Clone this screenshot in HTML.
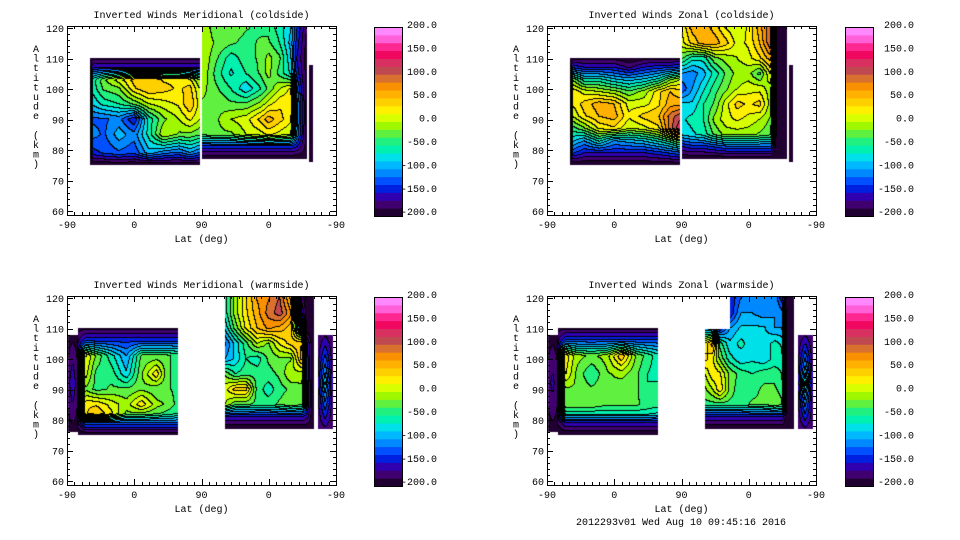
<!DOCTYPE html>
<html><head><meta charset="utf-8"><style>
body{margin:0;background:#fff;width:960px;height:540px;overflow:hidden;position:relative;font-family:"Liberation Mono",monospace}
canvas{position:absolute;z-index:1}
svg{position:absolute;left:0;top:0;z-index:2}
svg text{font-family:"Liberation Mono",monospace;font-size:10px;fill:#000}
</style></head><body>
<svg id="svg" width="960" height="540"></svg>
<script>
// ---- data: x in 0..360 (lat -90..90..-90), alt in km ----
const levelsTicks=[-200,-150,-100,-50,0,50,100,150,200];
const xTickVals=[0,90,180,270,360];
const xTickLabels=['-90','0','90','0','-90'];
const yTickVals=[60,70,80,90,100,110,120];

// Top-left: Meridional coldside
const tlA_cols=[31,35,50,70,90,110,130,150,165,178];
const tlA_rows=[110,107,103,100,95,90,85,79,75];
const tlA_vals=[
[-200,-190,-190,-190,-190,-190,-190,-190,-190,-190],
[-200,-150,-150,-150,-150,-150,-150,-150,-150,-150],
[-200,-60,-20,10,40,50,30,30,20,-20],
[-200,-60,-30,-20,30,50,40,30,40,0],
[-200,-80,-60,-50,-30,0,10,20,50,10],
[-200,-120,-120,-110,-150,-60,-20,0,20,0],
[-200,-110,-120,-90,-110,-60,0,-20,-20,-30],
[-200,-140,-130,-120,-130,-90,-110,-120,-100,-120],
[-200,-200,-200,-200,-200,-200,-200,-200,-200,-200]];
const tlB_cols=[181,200,220,240,260,270,285,300,308,321];
const tlB_rows=[121,115,110,105,100,95,90,85,81,77];
const tlB_vals=[
[0,-30,-20,-30,-40,-40,-60,-80,-130,-180],
[0,-20,-30,-40,-30,-30,-50,-90,-140,-190],
[0,-30,-60,-40,-30,-10,-30,-80,-150,-190],
[0,-40,-70,-50,-30,-10,-40,-70,-140,-190],
[-10,-30,-50,-80,-50,-30,0,20,-110,-190],
[-20,-20,-30,-30,-10,10,30,30,-90,-190],
[-20,-20,0,10,40,60,40,20,-90,-190],
[-30,-20,-20,0,10,20,10,0,-100,-190],
[-140,-140,-140,-140,-140,-140,-140,-140,-150,-190],
[-200,-200,-200,-200,-200,-200,-200,-200,-200,-200]];
const tlC_cols=[324,329];
const tlC_rows=[108,76];
const tlC_vals=[[-200,-200],[-200,-200]];

// Top-right: Zonal coldside
const trA_cols=[31,35,50,70,90,110,130,150,165,178];
const trA_rows=[110,107,103,99,95,91,87,83,79,75];
const trA_vals=[
[-200,-190,-190,-190,-190,-200,-190,-190,-190,-190],
[-200,-140,-150,-150,-150,-170,-150,-140,-140,-130],
[-200,-20,-60,-60,-80,-90,-80,-60,-20,0],
[-200,30,10,0,-10,-30,-10,30,50,40],
[-200,20,40,60,50,10,10,30,60,60],
[-200,0,30,50,60,20,40,50,90,110],
[-200,-40,-20,20,30,0,10,30,90,130],
[-200,-80,-100,-60,-100,-90,-80,-60,-40,-10],
[-200,-130,-150,-150,-150,-150,-150,-140,-130,-120],
[-200,-200,-200,-200,-200,-200,-200,-200,-200,-200]];
const trB_cols=[181,195,210,225,240,255,270,285,300,308,321];
const trB_rows=[121,115,110,105,100,95,90,85,81,77];
const trB_vals=[
[20,60,60,40,10,0,20,60,100,-200,-200],
[10,40,60,60,40,10,20,50,100,-200,-200],
[-30,-60,-60,-20,-10,0,10,30,60,-200,-200],
[-100,-110,-90,-60,-30,-10,-10,-40,20,-200,-200],
[-130,-100,-70,-40,-20,0,10,10,-10,-200,-200],
[-80,-80,-50,-30,10,40,30,40,-10,-200,-200],
[-70,-60,-50,-10,10,20,10,0,-20,-200,-200],
[-80,-70,-60,-30,-10,-10,-10,-20,-30,-200,-200],
[-150,-140,-140,-130,-120,-120,-120,-120,-120,-200,-200],
[-200,-200,-200,-200,-200,-200,-200,-200,-200,-200,-200]];
const trC_cols=[324,329];
const trC_rows=[108,76];
const trC_vals=[[-190,-190],[-190,-190]];

// Bottom-left: Meridional warmside
const blC_cols=[1,8,15];
const blC_rows=[108,92,76];
const blC_vals=[[-190,-190,-190],[-180,-150,-180],[-190,-190,-190]];
const blD_cols=[15,25,40,60,80,100,120,135,149];
const blD_rows=[110,106,101,95,90,85,82,79,75];
const blD_vals=[
[-190,-190,-190,-190,-190,-190,-190,-190,-190],
[-170,-140,-140,-140,-140,-140,-140,-140,-140],
[-160,20,-20,-60,-100,-30,-30,-30,-40],
[-160,10,-40,-40,-80,-20,30,-30,-40],
[-170,-20,-40,-30,-30,-20,-30,-30,-40],
[-170,30,30,10,-10,30,-10,-20,-40],
[-170,30,50,20,-20,-20,-30,-40,-50],
[-170,-120,-120,-120,-120,-120,-120,-120,-120],
[-200,-200,-200,-200,-200,-200,-200,-200,-200]];
const blE_cols=[212,225,240,255,270,285,300,315,322,330];
const blE_rows=[121,115,110,105,100,95,90,85,81,77];
const blE_vals=[
[-60,-10,30,70,80,100,40,-180,-200,-200],
[-60,-10,30,60,90,110,70,-150,-200,-200],
[-80,-30,20,50,70,60,40,-100,-200,-200],
[-120,-80,-40,0,-20,20,40,50,-150,-200],
[-100,-80,-50,-60,-30,-20,-20,60,-140,-200],
[-20,-50,-40,-40,-40,-30,0,-10,-140,-200],
[10,40,40,-40,-60,-40,-30,-20,-130,-200],
[0,-30,-30,-40,-40,-30,-20,-30,-130,-200],
[-150,-150,-150,-150,-150,-150,-150,-150,-160,-200],
[-200,-200,-200,-200,-200,-200,-200,-200,-200,-200]];
const blF_cols=[336,346,356];
const blF_rows=[108,92,77];
const blF_vals=[[-180,-170,-180],[-170,-80,-170],[-180,-170,-180]];

// Bottom-right: Zonal warmside
const brC_cols=[1,8,15];
const brC_rows=[108,92,76];
const brC_vals=[[-190,-190,-190],[-180,-160,-180],[-190,-190,-190]];
const brD_cols=[15,25,40,60,80,100,120,135,149];
const brD_rows=[110,106,101,95,90,85,82,79,75];
const brD_vals=[
[-190,-190,-190,-190,-190,-190,-190,-190,-190],
[-170,-130,-130,-130,-130,-130,-130,-130,-130],
[-170,30,-10,-20,-10,50,-20,-40,-60],
[-170,20,-20,-50,-20,-10,-30,-50,-60],
[-170,-20,-20,-30,-20,-30,-30,-50,-40],
[-170,-20,-20,-20,-30,-30,-30,-40,-40],
[-170,-60,-60,-60,-60,-60,-60,-60,-70],
[-180,-150,-150,-150,-150,-150,-150,-150,-150],
[-200,-200,-200,-200,-200,-200,-200,-200,-200]];
const brE_cols=[212,222,232,245,260,275,290,305,315,322,330];
const brE_rows=[121,115,110,105,100,95,90,85,81,77];
const brE_vals=[
[-200,null,null,-150,-120,-110,-110,-100,-150,-200,-200],
[-200,null,null,-150,-100,-100,-110,-100,-110,-200,-200],
[-100,-120,-150,-100,-80,-80,-80,-100,-100,-200,-200],
[20,60,-40,-80,-60,-80,-80,-60,-70,-200,-200],
[40,20,-20,-60,-80,-70,-80,-60,-60,-200,-200],
[0,30,20,-20,-40,-50,-40,-40,-50,-200,-200],
[-20,0,30,-20,-50,-40,-30,-30,-40,-200,-200],
[-40,-40,-40,-40,-40,-30,-30,-20,-30,-200,-200],
[-150,-150,-150,-150,-150,-150,-150,-150,-150,-200,-200],
[-200,-200,-200,-200,-200,-200,-200,-200,-200,-200,-200]];
const brF_cols=[336,346,356];
const brF_rows=[108,92,77];
const brF_vals=[[-180,-170,-180],[-170,-60,-170],[-180,-170,-180]];

const NB=24, STEP=400/NB;
const palette=['#200030','#400070','#3000b0','#0020e0','#0050ff','#0088ff','#00b8ff','#00e0e8','#00f0b0','#20f080','#60f040','#a0f800',
'#d8ff00','#fff000','#ffd000','#ffb000','#f89000','#d87030','#c04850','#d83060','#f00860','#ff2890','#ff60d8','#ff88ff'];
function levelOf(v){return Math.max(0,Math.min(NB-1,Math.floor((v+200)/STEP)));}

const panels=[
 {name:'meridional-coldside',title:'Inverted Winds Meridional (coldside)',L:67,R:336,T:26,B:215,y120:28,y60:211,cb:374,lblR:437,
  regions:[[tlA_cols,tlA_rows,tlA_vals],[tlB_cols,tlB_rows,tlB_vals],[tlC_cols,tlC_rows,tlC_vals]]},
 {name:'zonal-coldside',title:'Inverted Winds Zonal (coldside)',L:547,R:816,T:26,B:215,y120:28,y60:211,cb:845,lblR:914,
  regions:[[trA_cols,trA_rows,trA_vals],[trB_cols,trB_rows,trB_vals],[trC_cols,trC_rows,trC_vals]]},
 {name:'meridional-warmside',title:'Inverted Winds Meridional (warmside)',L:67,R:336,T:296,B:485,y120:298,y60:481,cb:374,lblR:437,
  regions:[[blC_cols,blC_rows,blC_vals],[blD_cols,blD_rows,blD_vals],[blE_cols,blE_rows,blE_vals],[blF_cols,blF_rows,blF_vals]]},
 {name:'zonal-warmside',title:'Inverted Winds Zonal (warmside)',L:547,R:816,T:296,B:485,y120:298,y60:481,cb:845,lblR:914,
  regions:[[brC_cols,brC_rows,brC_vals],[brD_cols,brD_rows,brD_vals],[brE_cols,brE_rows,brE_vals],[brF_cols,brF_rows,brF_vals]]}
];

function sample(reg,x,a){
 const [cols,rows,vals]=reg;
 if(x<cols[0]||x>cols[cols.length-1]||a>rows[0]||a<rows[rows.length-1])return undefined;
 let i=0;while(i<cols.length-2&&x>cols[i+1])i++;
 let j=0;while(j<rows.length-2&&a<rows[j+1])j++;
 const tx=(x-cols[i])/(cols[i+1]-cols[i]),ty=(rows[j]-a)/(rows[j]-rows[j+1]);
 const v00=vals[j][i],v10=vals[j][i+1],v01=vals[j+1][i],v11=vals[j+1][i+1];
 if(v00==null||v10==null||v01==null||v11==null)return null;
 return (v00*(1-tx)+v10*tx)*(1-ty)+(v01*(1-tx)+v11*tx)*ty;
}
const svg=document.getElementById('svg');const NS='http://www.w3.org/2000/svg';
function mk(tag,attrs,parent,text){const e=document.createElementNS(NS,tag);for(const k in attrs)e.setAttribute(k,attrs[k]);if(text!=null)e.textContent=text;(parent||svg).appendChild(e);return e;}

function rgb(h){return [parseInt(h.substr(1,2),16),parseInt(h.substr(3,2),16),parseInt(h.substr(5,2),16)];}
panels.forEach(p=>{
 const W=p.R-p.L,H=p.B-p.T;
 const xs=x=>p.L+x*(W/360);
 const ys=a=>p.y120+(120-a)*(p.y60-p.y120)/60;
 const cv=document.createElement('canvas');cv.width=W;cv.height=H;cv.style.left=p.L+'px';cv.style.top=p.T+'px';
 
 
 document.body.appendChild(cv);
 const ctx=cv.getContext('2d');const img=ctx.createImageData(W,H);
 const lev=new Int16Array(W*H).fill(-1);
 for(let py=0;py<H;py++)for(let px=0;px<W;px++){
  const x=(px+0.5)*360/W;const a=120-((p.T+py+0.5)-p.y120)*60/(p.y60-p.y120);
  let v;for(const r of p.regions){const s=sample(r,x,a);if(s!==undefined){v=s;break;}}
  if(v==null)continue;
  lev[py*W+px]=levelOf(v);
 }
 for(let py=0;py<H;py++)for(let px=0;px<W;px++){
  const k=py*W+px,l=lev[k];
  if(l<0){img.data[k*4+3]=0;continue;}
  let c=rgb(palette[l]);
  const r=px+1<W?lev[k+1]:l,d=py+1<H?lev[k+W]:l;
  if((r>=0&&r!==l)||(d>=0&&d!==l))c=[0,0,0];
  img.data[k*4]=c[0];img.data[k*4+1]=c[1];img.data[k*4+2]=c[2];img.data[k*4+3]=255;
 }
 ctx.putImageData(img,0,0);
 const g=mk('g',{});
 mk('rect',{x:p.L+0.5,y:p.T+0.5,width:W,height:H,fill:'none',stroke:'#000','stroke-width':1,},g);
 for(let x=0;x<=360;x+=10){const X=Math.round(xs(x))+0.5,len=x%90===0?6:3;
  mk('line',{x1:X,x2:X,y1:p.B,y2:p.B-len,stroke:'#000'},g);mk('line',{x1:X,x2:X,y1:p.T,y2:p.T+len,stroke:'#000'},g);}
 for(let a=60;a<=120;a+=2){const Y=Math.round(ys(a))+0.5,len=a%10===0?6:3;
  mk('line',{x1:p.L,x2:p.L+len,y1:Y,y2:Y,stroke:'#000'},g);mk('line',{x1:p.R,x2:p.R-len,y1:Y,y2:Y,stroke:'#000'},g);}
 xTickVals.forEach((v,i)=>{const t=mk('text',{x:xs(v),y:p.B+13,'text-anchor':'middle'},g,xTickLabels[i]);
  });
 yTickVals.forEach(v=>{const t=mk('text',{x:p.L-3,y:ys(v)+4,'text-anchor':'end'},g,String(v));
  });
 mk('text',{x:(p.L+p.R)/2,y:p.T-8,'text-anchor':'middle',},g,p.title);
 mk('text',{x:(p.L+p.R)/2,y:p.B+27,'text-anchor':'middle',},g,'Lat (deg)');
 const yt=mk('g',{},g);
 'Altitude (km)'.split('').forEach((ch,i)=>{if(ch!==' ')mk('text',{x:p.L-31,y:p.T+26+i*9.6,'text-anchor':'middle'},yt,ch);});
 // colorbar
 const cb=mk('g',{});
 const cbT=p.T+1,cbB=p.B+1,bh=(cbB-cbT)/NB;
 for(let i=0;i<NB;i++){
  const r=mk('rect',{x:p.cb,y:cbB-(i+1)*bh,width:28,height:bh+0.5,fill:palette[i]},cb);
  }
 mk('rect',{x:p.cb+0.5,y:cbT+0.5,width:28,height:cbB-cbT,fill:'none',stroke:'#000'},cb);
 levelsTicks.forEach((v,i)=>{const t=mk('text',{x:p.lblR,y:p.T+2+(8-i)*23.4,'text-anchor':'end'},cb,v.toFixed(1));
  });
});
mk('text',{x:681,y:525,'text-anchor':'middle',},svg,'2012293v01 Wed Aug 10 09:45:16 2016');
</script>
</body></html>
